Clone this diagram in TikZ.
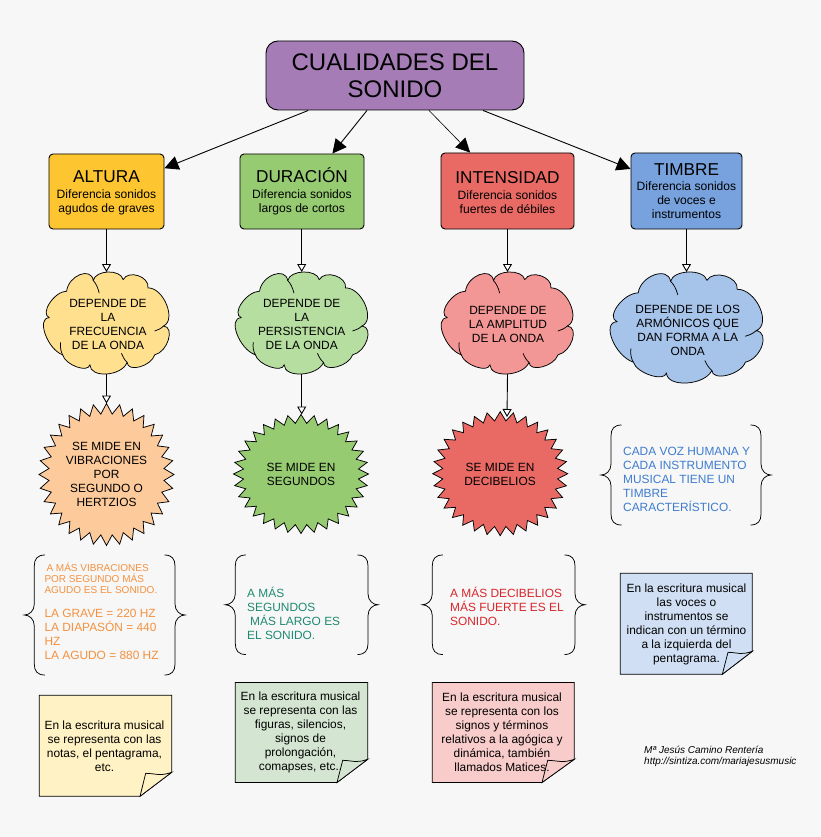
\documentclass[tikz,border=0pt]{standalone}
\usepackage{fontspec}
\setmainfont{Liberation Sans}
\usetikzlibrary{arrows.meta,calc}
\definecolor{bg}{HTML}{F7F7F7}
\definecolor{cTitle}{HTML}{A57CB6}
\definecolor{cAltura}{HTML}{FDC52F}
\definecolor{cDur}{HTML}{96CB72}
\definecolor{cInt}{HTML}{E96A64}
\definecolor{cTim}{HTML}{78A2DE}
\definecolor{cloudA}{HTML}{FEE08F}
\definecolor{cloudB}{HTML}{B7DEA1}
\definecolor{cloudC}{HTML}{F29795}
\definecolor{cloudD}{HTML}{A6C3EA}
\definecolor{starA}{HTML}{FDCB9B}
\definecolor{noteA}{HTML}{FFF2C4}
\definecolor{noteB}{HTML}{D4E6D2}
\definecolor{noteC}{HTML}{F7CCCB}
\definecolor{noteD}{HTML}{D0DFF3}
\definecolor{tOrange}{HTML}{F4913F}
\definecolor{tTeal}{HTML}{1F8A70}
\definecolor{tRed}{HTML}{D8262C}
\definecolor{tBlue}{HTML}{3F7CCF}
\newcommand\fs[1]{\fontsize{#1}{14}\selectfont}
\tikzset{
  x=1pt,y=-1pt,
  titlebox/.style={draw=black,line width=0.9pt,rounded corners=12pt,inner sep=0pt,align=center,fill=cTitle},
  headbox/.style={draw=black,line width=0.9pt,rounded corners=4pt,inner sep=0pt,align=center,font=\fs{12.1}},
  ghost/.style={inner sep=0pt,outer sep=0pt},
  label/.style={inner sep=0pt,align=center,font=\fs{11.9}},
  sidetext/.style={inner sep=0pt,align=left,anchor=west,font=\fs{11.9}},
  shapeline/.style={draw=black,line width=0.75pt,line join=miter},
  cloudline/.style={draw=black,line width=0.75pt,line join=round,line cap=round},
  solidarrow/.style={draw=black,line width=0.9pt,-{Triangle[length=14pt,width=14pt]}},
  openarrow/.style={draw=black,line width=0.9pt,-{Triangle[length=8pt,width=9pt,fill=white]}},
}
% rounded lobe from (#1,#2) through apex (#3,#4) to (#5,#6)
\newcommand\lb[6]{.. controls ({.2583*#1-.5917*#5+1.3333*#3},{.2583*#2-.5917*#6+1.3333*#4}) and ({-.5917*#1+.2583*#5+1.3333*#3},{-.5917*#2+.2583*#6+1.3333*#4}) .. (#5,#6)}
% name, x0,y0,x1,y1, colour
\newcommand\cloudat[6]{%
  \node[ghost,minimum width=#4pt-#2pt,minimum height=#5pt-#3pt] (#1) at ({(#2+#4)/2},{(#3+#5)/2}) {};
  \pgfmathsetmacro\sx{(#4-#2)/100}\pgfmathsetmacro\sy{(#5-#3)/100}
  \begin{scope}[shift={(#2,#3)},x=\sx pt,y=-\sy pt]
    \path[cloudline,fill=#6] (18.1,18.8)
      \lb{18.1}{18.8}{28.7}{2.6}{39.4}{8.4}
      \lb{39.4}{8.4}{51.3}{0}{63.3}{7.5}
      \lb{63.3}{7.5}{75.3}{3.6}{83.2}{15.6}
      \lb{83.2}{15.6}{98}{31.8}{95.7}{52.9}
      \lb{95.7}{52.9}{99.5}{66.5}{88.6}{81.2}
      \lb{88.6}{81.2}{76.6}{93}{66.5}{88.6}
      \lb{66.5}{88.6}{50}{100}{36.7}{90.9}
      \lb{36.7}{90.9}{26.1}{93}{14.9}{81.2}
      \lb{14.9}{81.2}{1}{61}{4.3}{44.8}
      \lb{4.3}{44.8}{4.5}{30.5}{18.1}{18.8}
      -- cycle;
    \draw[cloudline,fill=none] (39.4,8.4) .. controls (41.5,11) and (43.2,15.5) .. (44.1,20.5);
    \draw[cloudline,fill=none] (95.7,52.9) .. controls (93.5,55.5) and (91,57) .. (88.6,57.8);
    \draw[cloudline,fill=none] (14.9,81.2) .. controls (13.4,78) and (12.8,73) .. (13.3,69.2);
    \draw[cloudline,fill=none] (66.5,88.6) .. controls (64.5,86.5) and (63,83) .. (62,79.9);
  \end{scope}
}
% name, cx, cy, rx, ry, colour
\newcommand\burstat[6]{%
  \node[ghost,minimum width=2pt*#4,minimum height=2pt*#5] (#1) at (#2,#3) {};
  \draw[shapeline,fill=#6,miter limit=10] plot[samples at={0,...,63},variable=\i]
    ({#2+#4*(1-0.145*mod(\i,2))*cos(\i*5.625)},{#3+#5*(1-0.145*mod(\i,2))*sin(\i*5.625)}) -- cycle;
}
% x left spine, x right spine, y top, y bottom
\newcommand\bracepair[4]{%
  \pgfmathsetmacro\ym{(#3+#4)/2}
  \draw[black,line width=0.75pt] (#1+10.5,#3) .. controls (#1+3,#3) and (#1,#3+4) .. (#1,#3+11) -- (#1,\ym-11)
    .. controls (#1,\ym-4) and (#1-5,\ym) .. (#1-10,\ym)
    .. controls (#1-5,\ym) and (#1,\ym+4) .. (#1,\ym+11) -- (#1,#4-11)
    .. controls (#1,#4-4) and (#1+3,#4) .. (#1+10.5,#4);
  \draw[black,line width=0.75pt] (#2-10.5,#3) .. controls (#2-3,#3) and (#2,#3+4) .. (#2,#3+11) -- (#2,\ym-11)
    .. controls (#2,\ym-4) and (#2+5,\ym) .. (#2+10,\ym)
    .. controls (#2+5,\ym) and (#2,\ym+4) .. (#2,\ym+11) -- (#2,#4-11)
    .. controls (#2,#4-4) and (#2-3,#4) .. (#2-10.5,#4);
}
% x0,y0,x1,y1, fold x, fold y, colour
\newcommand\notepage[7]{%
  \draw[shapeline,fill=#7] (#1,#2) -- (#3,#2) -- (#3,#6) -- (#5,#4) -- (#1,#4) -- cycle;
  \draw[shapeline,fill=#7] (#3,#6) .. controls (#3-12,#6+4) and (#5+18,#6+1.5) .. (#5+5.7,#6+1) -- (#5,#4) -- cycle;
}
\newcommand\hdbig[1]{\fontsize{17.2}{16}\selectfont #1}
\newcommand\hdlow[1]{\rule{0pt}{15pt}\fontsize{17.2}{16}\selectfont #1}
\begin{document}
\begin{tikzpicture}
\useasboundingbox (0,0) rectangle (820,837);
\fill[bg] (0,0) rectangle (820,837);

% title and headers
\node[titlebox,minimum width=258pt,minimum height=69pt,font=\fontsize{24}{27.5}\selectfont] (title) at (395,75.5) {CUALIDADES DEL\\SONIDO};
\node[headbox,fill=cAltura,minimum width=115pt,minimum height=75pt] (altura) at (106.5,191.5) {\hdlow{ALTURA}\\[2pt]Diferencia sonidos\\agudos de graves};
\node[headbox,fill=cDur,minimum width=124pt,minimum height=75pt] (duracion) at (302,191.5) {\hdlow{DURACIÓN}\\[2pt]Diferencia sonidos\\largos de cortos};
\node[headbox,fill=cInt,minimum width=133pt,minimum height=76pt] (intensidad) at (507.5,191) {\hdlow{INTENSIDAD}\\[2pt]Diferencia sonidos\\fuertes de débiles};
\node[headbox,fill=cTim,minimum width=111pt,minimum height=76pt] (timbre) at (686.5,191) {\hdbig{TIMBRE}\\[1.5pt]Diferencia sonidos\\de voces e\\instrumentos};

% clouds
\cloudat{cloudone}{44}{272}{169}{374}{cloudA}
\cloudat{cloudtwo}{235.7}{272}{367.7}{374}{cloudB}
\cloudat{cloudthree}{441.7}{272}{573}{374}{cloudC}
\cloudat{cloudfour}{610.7}{272}{762.7}{383}{cloudD}
\node[label] (cloudonetext) at (108,324.5) {DEPENDE DE\\LA\\FRECUENCIA\\DE LA ONDA};
\node[label] (cloudtwotext) at (301.7,324.5) {DEPENDE DE\\LA\\PERSISTENCIA\\DE LA ONDA};
\node[label] (cloudthreetext) at (508,324.5) {DEPENDE DE\\LA AMPLITUD\\DE LA ONDA};
\node[label] (cloudfourtext) at (687.7,330) {DEPENDE DE LOS\\ARMÓNICOS QUE\\DAN FORMA A LA\\ONDA};

% stars
\burstat{starone}{106.5}{474.5}{67.5}{71}{starA}
\burstat{startwo}{301}{474}{67.5}{59.5}{cDur}
\burstat{starthree}{500.2}{473.7}{67.5}{62}{cInt}
\node[label] (staronetext) at (106.5,474) {SE MIDE EN\\VIBRACIONES\\POR\\SEGUNDO O\\HERTZIOS};
\node[label] (startwotext) at (301,474) {SE MIDE EN\\SEGUNDOS};
\node[label] (starthreetext) at (500,474) {SE MIDE EN\\DECIBELIOS};
\coordinate (starthreetip) at (507,417);

% connectors
\draw[solidarrow] (title) -- (altura);
\draw[solidarrow] (title) -- (duracion);
\draw[solidarrow,line width=0.6pt] (title) -- (intensidad);
\draw[solidarrow] (title) -- (timbre);
\draw[openarrow] (altura.south -| cloudone.north) -- (cloudone.north);
\draw[openarrow] (duracion.south -| cloudtwo.north) -- (cloudtwo.north);
\draw[openarrow] (intensidad.south) -- (intensidad.south |- cloudthree.north);
\draw[openarrow] (timbre.south) -- (timbre.south |- cloudfour.north);
\draw[openarrow] (cloudone.south) -- (starone.north);
\draw[openarrow] (cloudtwo.south) -- (cloudtwo.south |- startwo.north);
\draw[openarrow] (intensidad.south |- cloudthree.south) -- (starthreetip);

% braces
\bracepair{34.3}{175}{555}{675}
\bracepair{235.3}{368}{555}{654.5}
\bracepair{432.3}{575}{555}{654.5}
\bracepair{611}{761}{425}{525}
\node[sidetext,text=tOrange,font=\fontsize{10}{11}\selectfont] (bracetextonea) at (44.3,578) {\hspace*{2pt}A MÁS VIBRACIONES\\POR SEGUNDO MÁS\\AGUDO ES EL SONIDO.};
\node[sidetext,text=tOrange] (bracetextoneb) at (44.3,634) {LA GRAVE = 220 HZ\\LA DIAPASÓN = 440\\HZ\\LA AGUDO = 880 HZ};
\node[sidetext,text=tTeal] (bracetexttwo) at (247,613) {A MÁS\\SEGUNDOS\\\hspace*{3pt}MÁS LARGO ES\\EL SONIDO.};
\node[sidetext,text=tRed] (bracetextthree) at (450,606) {A MÁS DECIBELIOS\\MÁS FUERTE ES EL\\SONIDO.};
\node[sidetext,text=tBlue] (bracetextfour) at (623,479) {CADA VOZ HUMANA Y\\CADA INSTRUMENTO\\MUSICAL TIENE UN\\TIMBRE\\CARACTERÍSTICO.};

% notes
\notepage{39.3}{695.3}{171.7}{796.3}{140}{772.3}{noteA}
\notepage{235.3}{682.5}{367.7}{782.5}{337}{759.3}{noteB}
\notepage{432.3}{682.5}{574.3}{782.5}{542}{759.3}{noteC}
\notepage{620.3}{573.3}{752.3}{674.3}{722.3}{651.3}{noteD}
\node[label] (noteonetext) at (104.5,746) {En la escritura musical\\se representa con las\\notas, el pentagrama,\\etc.};
\node[label] (notetwotext) at (300.5,732) {En la escritura musical\\se representa con las\\figuras, silencios,\\signos de\\prolongación,\\comapses, etc..};
\node[label] (notethreetext) at (502,732) {En la escritura musical\\se representa con los\\signos y términos\\relativos a la agógica y\\dinámica, también\\llamados Matices.};
\node[label] (notefourtext) at (686.5,624) {En la escritura musical\\las voces o\\instrumentos se\\indican con un término\\a la izquierda del\\pentagrama.};

% credit
\node[inner sep=0pt,align=left,anchor=west,font=\fontsize{10}{11.5}\selectfont\itshape] (credit) at (644,756.5) {Mª Jesús Camino Rentería\\http://sintiza.com/mariajesusmusic};
\end{tikzpicture}
\end{document}
